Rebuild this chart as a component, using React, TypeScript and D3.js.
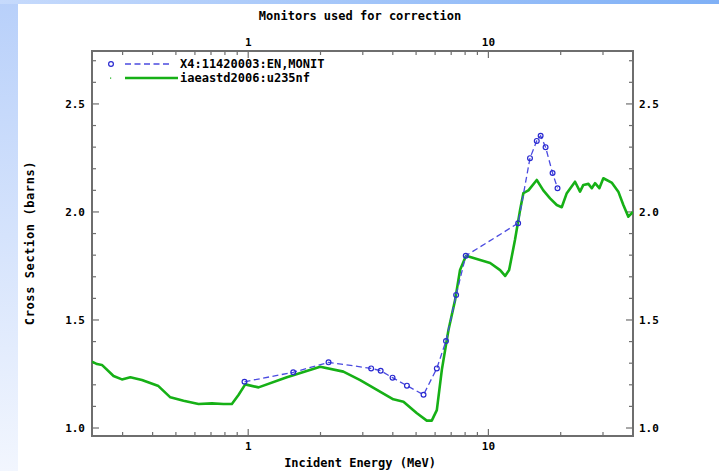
import React from 'react';
import * as d3 from 'd3';

// monitor data (X4:11420003:EN,MONIT)
const monitorEnergy = [0.965, 1.54, 2.16, 3.25, 3.56, 3.99, 4.58, 5.37, 6.10, 6.66, 7.34, 8.05, 13.3, 14.9, 15.9, 16.5, 17.3, 18.5, 19.4];
const monitorXs = [1.214, 1.258, 1.304, 1.276, 1.265, 1.233, 1.196, 1.154, 1.276, 1.403, 1.616, 1.797, 1.948, 2.249, 2.329, 2.353, 2.30, 2.18, 2.11];

// evaluation (iaeastd2006:u235nf)
const evalEnergy = [0.2237, 0.2347, 0.246, 0.275, 0.298, 0.323, 0.361, 0.423, 0.474, 0.538, 0.621, 0.706, 0.789, 0.855, 0.911, 0.972, 1.104, 1.449, 1.994, 2.49, 2.925, 4.02, 4.43, 5.04, 5.54, 5.81, 6.10, 6.40, 6.82, 7.27, 7.62, 8.07, 9.24, 10.17, 11.19, 11.74, 12.2, 12.9, 13.55, 13.98, 14.68, 15.9, 16.93, 18.06, 19.26, 20.2, 21.2, 22.95, 24.07, 24.85, 26.08, 26.94, 27.8, 28.97, 30.1, 32.6, 34.75, 36.47, 38.25, 40];
const evalXs = [1.307, 1.296, 1.292, 1.241, 1.225, 1.235, 1.222, 1.194, 1.142, 1.126, 1.111, 1.114, 1.111, 1.111, 1.153, 1.202, 1.188, 1.235, 1.284, 1.261, 1.222, 1.133, 1.122, 1.068, 1.034, 1.034, 1.083, 1.269, 1.454, 1.593, 1.731, 1.797, 1.778, 1.764, 1.731, 1.704, 1.731, 1.87, 2.009, 2.087, 2.10, 2.148, 2.10, 2.063, 2.032, 2.022, 2.087, 2.14, 2.094, 2.125, 2.13, 2.11, 2.133, 2.11, 2.156, 2.136, 2.094, 2.032, 1.978, 2.0];

const xMajor = [1, 10];
const yMajor = [1.0, 1.5, 2.0, 2.5];
const legendNames = ['X4:11420003:EN,MONIT', 'iaeastd2006:u235nf'];

const W = 719, H = 471;
const L = 92, R = 633, T = 51, B = 436;
const font = '"DejaVu Sans Mono", monospace';
const axisColor = '#6e6e6e';
const blue = '#4b4be0';
const green = '#16b016';

export default function App() {
  const x = d3.scaleLog().domain([0.2237, 40]).range([L, R]);
  const y = d3.scaleLinear().domain([0.963, 2.745]).range([B, T]);

  const xTicks = x.ticks().filter(t => t >= 0.2237 && t <= 40);
  const yTicks = d3.range(10, 28).map(v => v / 10);

  const line = d3.line<number>().x((_, i) => 0).y(() => 0);
  const evalPath = d3.line<number>()
    .x(d => x(d))
    .y((_, i) => y(evalXs[i]))(evalEnergy) || '';
  const monPath = d3.line<number>()
    .x(d => x(d))
    .y((_, i) => y(monitorXs[i]))(monitorEnergy) || '';
  void line;

  const isMajorX = (t: number) => xMajor.includes(t);
  const isMajorY = (t: number) => yMajor.some(m => Math.abs(m - t) < 1e-6);

  return (
    <svg width={W} height={H} style={{ position: 'absolute', left: 0, top: 0 }}>
      <defs>
        <linearGradient id="side" x1="0" y1="0" x2="0" y2="1">
          <stop offset="0" stopColor="#b8d0fa" />
          <stop offset="1" stopColor="#f2f6fe" />
        </linearGradient>
        <linearGradient id="topbar" x1="0" y1="0" x2="1" y2="0">
          <stop offset="0" stopColor="#c6dafc" />
          <stop offset="1" stopColor="#7fb0f6" />
        </linearGradient>
        <clipPath id="plot">
          <rect x={L} y={T} width={R - L} height={B - T} />
        </clipPath>
      </defs>
      <rect x={0} y={0} width={W} height={H} fill="#fff" />
      <rect x={0} y={0} width={18} height={H} fill="url(#side)" />
      <rect x={0} y={0} width={W} height={4} fill="url(#topbar)" />

      <text x={360} y={20} textAnchor="middle" fontFamily={font} fontWeight="bold" fontSize={12}>
        Monitors used for correction
      </text>

      {/* x ticks, bottom & top */}
      {xTicks.map(t => {
        const len = isMajorX(t) ? 7 : 4;
        return (
          <g key={'x' + t}>
            <line x1={x(t)} x2={x(t)} y1={B} y2={B - len} stroke={axisColor} strokeWidth={1.2} />
            <line x1={x(t)} x2={x(t)} y1={T} y2={T + len} stroke={axisColor} strokeWidth={1.2} />
          </g>
        );
      })}
      {xMajor.map(t => (
        <g key={'xl' + t} fontFamily={font} fontWeight="bold" fontSize={11} textAnchor="middle">
          <text x={x(t)} y={450}>{t}</text>
          <text x={x(t)} y={46}>{t}</text>
        </g>
      ))}

      {/* y ticks, left & right */}
      {yTicks.map(t => {
        const len = isMajorY(t) ? 7 : 4;
        return (
          <g key={'y' + t}>
            <line x1={L} x2={L + len} y1={y(t)} y2={y(t)} stroke={axisColor} strokeWidth={1.2} />
            <line x1={R} x2={R - len} y1={y(t)} y2={y(t)} stroke={axisColor} strokeWidth={1.2} />
          </g>
        );
      })}
      {yMajor.map(t => (
        <g key={'yl' + t} fontFamily={font} fontWeight="bold" fontSize={11}>
          <text x={85} y={y(t) + 4} textAnchor="end">{t.toFixed(1)}</text>
          <text x={639} y={y(t) + 4}>{t.toFixed(1)}</text>
        </g>
      ))}

      <rect x={L} y={T} width={R - L} height={B - T} fill="none" stroke={axisColor} strokeWidth={2} />

      <g clipPath="url(#plot)">
        <path d={evalPath} fill="none" stroke={green} strokeWidth={2.6} strokeLinejoin="round" />
        <path d={monPath} fill="none" stroke={blue} strokeWidth={1.3} strokeDasharray="6,3.5" />
        {monitorEnergy.map((e, i) => (
          <circle key={i} cx={x(e)} cy={y(monitorXs[i])} r={2.4} fill="#fff" fillOpacity={0} stroke="#2a2ad0" strokeWidth={1.2} />
        ))}
      </g>

      {/* legend */}
      <circle cx={111} cy={64} r={2.4} fill="none" stroke="#2a2ad0" strokeWidth={1.2} />
      <line x1={125} x2={172} y1={64} y2={64} stroke={blue} strokeWidth={1.3} strokeDasharray="6,3.5" />
      <text x={180} y={68} fontFamily={font} fontWeight="bold" fontSize={12}>{legendNames[0]}</text>
      <rect x={110} y={77.5} width={1.2} height={1.2} fill={green} />
      <line x1={125} x2={178} y1={78} y2={78} stroke={green} strokeWidth={2.6} />
      <text x={180} y={82} fontFamily={font} fontWeight="bold" fontSize={12}>{legendNames[1]}</text>

      <text x={360} y={467} textAnchor="middle" fontFamily={font} fontWeight="bold" fontSize={12}>
        Incident Energy (MeV)
      </text>
      <text transform="translate(34,243) rotate(-90)" textAnchor="middle" fontFamily={font} fontWeight="bold" fontSize={12} letterSpacing={0.6}>
        Cross Section (barns)
      </text>
    </svg>
  );
}
